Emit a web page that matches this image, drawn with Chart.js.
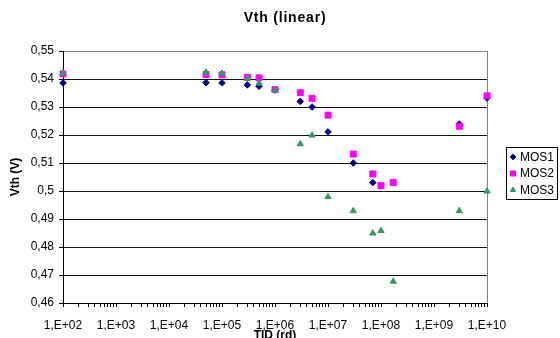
<!DOCTYPE html>
<html>
<head>
<meta charset="utf-8">
<title>Vth (linear)</title>
<script src="https://cdn.jsdelivr.net/npm/chart.js@4.4.1/dist/chart.umd.min.js"></script>
<style>
  html, body { margin: 0; padding: 0; background: #fff; }
  #chart { display: block; }
</style>
</head>
<body>
<canvas id="chart" width="560" height="338"></canvas>
<script>
// ── Data ────────────────────────────────────────────────
const TID  = [1e2, 5e4, 1e5, 3e5, 5e5, 1e6, 3e6, 5e6, 1e7, 3e7, 7e7, 1e8, 1.7e8, 3e9, 1e10];
const MOS1 = [0.5386, 0.5387, 0.5386, 0.5379, 0.5374, 0.5361, 0.5320, 0.5300, 0.5211, 0.5100, 0.5030, null, null, 0.5239, 0.5332];
const MOS2 = [0.5418, 0.5416, 0.5415, 0.5406, 0.5404, 0.5362, 0.5351, 0.5331, 0.5271, 0.5132, 0.5061, 0.5019, 0.5030, 0.5231, 0.5340];
const MOS3 = [0.5421, 0.5424, 0.5420, 0.5402, 0.5385, 0.5360, 0.5168, 0.5199, 0.4979, 0.4929, 0.4849, 0.4858, 0.4677, 0.4929, 0.4999];

const X_TICKS       = [1e2, 1e3, 1e4, 1e5, 1e6, 1e7, 1e8, 1e9, 1e10];
const X_TICK_LABELS = ['1,E+02', '1,E+03', '1,E+04', '1,E+05', '1,E+06', '1,E+07', '1,E+08', '1,E+09', '1,E+10'];
const Y_TICKS       = [0.46, 0.47, 0.48, 0.49, 0.50, 0.51, 0.52, 0.53, 0.54, 0.55];
const Y_TICK_LABELS = ['0,46', '0,47', '0,48', '0,49', '0,5', '0,51', '0,52', '0,53', '0,54', '0,55'];

const FONT = "'Liberation Sans', Arial, sans-serif";

const toPoints = (ys) => TID.map((x, i) => ({ x, y: ys[i] }));

// ── Title + legend drawn on the canvas ──────────────────
const titlePlugin = {
  id: 'excelTitle',
  afterDraw(chart) {
    const ctx = chart.ctx;
    ctx.save();
    ctx.font = `bold 14px ${FONT}`;
    ctx.letterSpacing = '0.8px';
    ctx.fillStyle = '#000';
    ctx.textAlign = 'center';
    ctx.textBaseline = 'middle';
    ctx.fillText('Vth (linear)', 285, 18);
    ctx.restore();
  },
};

const legendPlugin = {
  id: 'boxedLegend',
  afterDraw(chart) {
    const ctx = chart.ctx;
    const box = { x: 506.5, y: 147.5, w: 51, h: 52 };
    ctx.save();
    ctx.strokeStyle = '#000';
    ctx.lineWidth = 1;
    ctx.strokeRect(box.x, box.y, box.w, box.h);
    ctx.font = `12px ${FONT}`;
    ctx.textBaseline = 'middle';
    ctx.textAlign = 'left';
    chart.data.datasets.forEach((ds, i) => {
      const y = box.y + 9.5 + i * 16.5;
      ctx.fillStyle = ds.backgroundColor;
      ctx.strokeStyle = ds.borderColor;
      Chart.helpers.drawPoint(ctx, {
        pointStyle: ds.pointStyle,
        radius: ds.pointRadius * 0.85,
        rotation: 0,
        borderWidth: 1,
      }, 513, y);
      ctx.fillStyle = '#000';
      ctx.fillText(ds.label, 520, y + 0.5);
    });
    ctx.restore();
  },
};

// ── Chart ───────────────────────────────────────────────
new Chart(document.getElementById('chart'), {
  type: 'scatter',
  data: {
    datasets: [
      {
        label: 'MOS1', data: toPoints(MOS1), order: 2,
        pointStyle: 'rectRot', pointRadius: 3.3,
        backgroundColor: '#000080', borderColor: '#000080', borderWidth: 1,
      },
      {
        label: 'MOS2', data: toPoints(MOS2), order: 1,
        pointStyle: 'rect', pointRadius: 4.2,
        backgroundColor: '#FF00FF', borderColor: '#FF00FF', borderWidth: 1,
      },
      {
        label: 'MOS3', data: toPoints(MOS3), order: 0,
        pointStyle: 'triangle', pointRadius: 3.6,
        backgroundColor: '#339966', borderColor: '#339966', borderWidth: 1,
      },
    ],
  },
  options: {
    responsive: false,
    animation: false,
    clip: false,
    layout: { padding: { top: 51, right: 73, bottom: 0, left: 0 } },
    plugins: {
      legend: { display: false },
      title: { display: false },
      tooltip: { enabled: false },
    },
    elements: { point: { hoverRadius: 4 } },
    scales: {
      x: {
        type: 'logarithmic',
        min: 1e2, max: 1e10,
        afterBuildTicks: (scale) => {
          const ticks = [];
          X_TICKS.forEach((v, i) => {
            ticks.push({ value: v, major: true });
            if (i < X_TICKS.length - 1) {
              for (let k = 2; k <= 9; k++) ticks.push({ value: v * k, major: false });
            }
          });
          scale.ticks = ticks;
        },
        afterFit: (scale) => { scale.height = 35; },
        ticks: {
          autoSkip: false,
          maxRotation: 0,
          padding: 11,
          color: '#000',
          font: { family: FONT, size: 12 },
          callback: (value) => {
            const i = X_TICKS.indexOf(value);
            return i >= 0 ? X_TICK_LABELS[i] : '';
          },
        },
        grid: {
          drawOnChartArea: false,
          drawTicks: true,
          tickLength: 4,
          tickColor: '#000',
        },
        border: { display: true, color: '#000', width: 1 },
        title: {
          display: true,
          text: 'TID (rd)',
          color: '#000',
          font: { family: FONT, size: 12, weight: 'bold', lineHeight: 1 },
          padding: { top: 0, bottom: -3.5 },
        },
      },
      y: {
        min: 0.46, max: 0.55,
        afterBuildTicks: (scale) => { scale.ticks = Y_TICKS.map(v => ({ value: v })); },
        afterFit: (scale) => { scale.width = 63; },
        ticks: {
          padding: 5,
          color: '#000',
          font: { family: FONT, size: 12 },
          callback: (value) => Y_TICK_LABELS[Y_TICKS.indexOf(value)],
        },
        grid: {
          color: (c) => (c.tick && c.tick.value === 0.55 ? '#808080' : '#111'),
          lineWidth: 1,
          drawTicks: true,
          tickLength: 4,
          tickColor: '#000',
        },
        border: { display: true, color: '#000', width: 1 },
        title: {
          display: true,
          text: 'Vth (V)',
          color: '#000',
          font: { family: FONT, size: 12, weight: 'bold' },
          padding: { top: 8, bottom: 0 },
        },
      },
    },
  },
  plugins: [
    titlePlugin,
    legendPlugin,
    {
      id: 'rightBorder',
      beforeDatasetsDraw(chart) {
        const { ctx, chartArea: a } = chart;
        ctx.save();
        ctx.strokeStyle = '#808080';
        ctx.lineWidth = 1;
        ctx.beginPath();
        ctx.moveTo(Math.round(a.right) + 0.5, a.top);
        ctx.lineTo(Math.round(a.right) + 0.5, a.bottom);
        ctx.stroke();
        ctx.restore();
      },
    },
  ],
});
</script>
</body>
</html>
